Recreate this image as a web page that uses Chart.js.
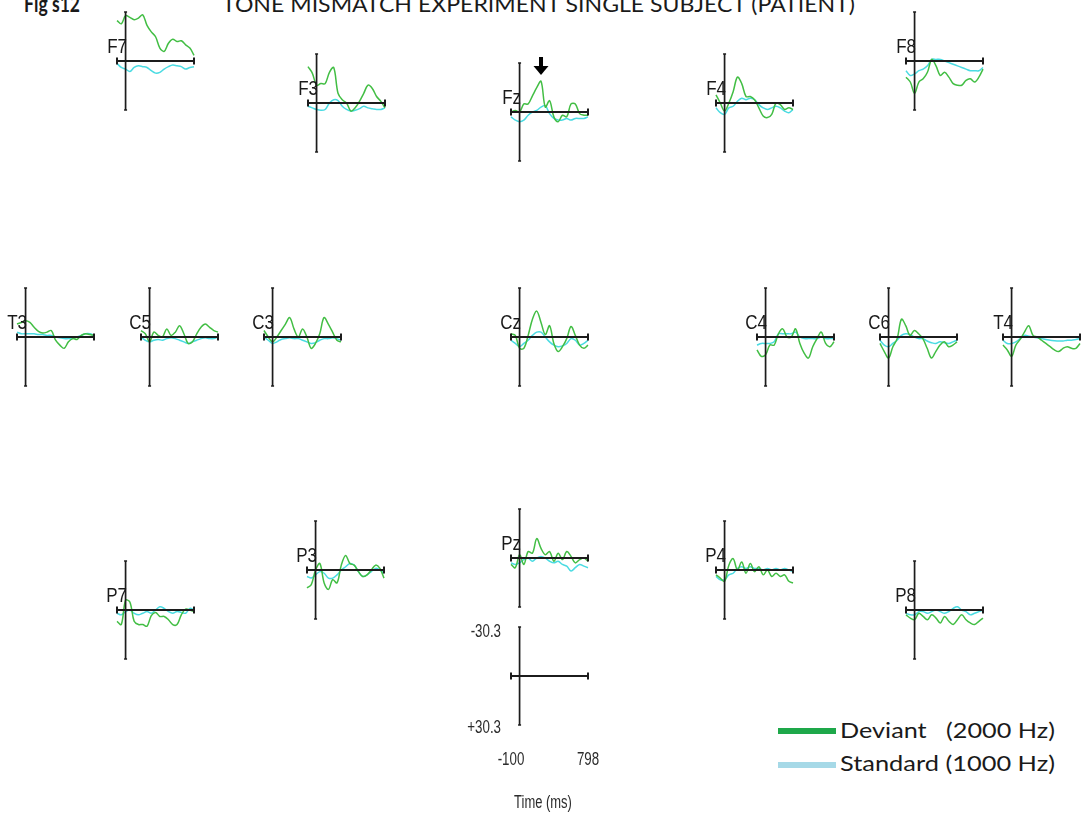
<!DOCTYPE html>
<html>
<head>
<meta charset="utf-8">
<script src="https://cdn.jsdelivr.net/npm/chart.js@4"></script>
<style>
  html, body { margin: 0; padding: 0; background: #fff; }
  #stage { position: relative; width: 1085px; height: 819px; overflow: hidden; }
  #stage canvas { position: absolute; }
  .txt { position: absolute; white-space: pre; color: #1a1a1a; font-family: Lato, "Open Sans", sans-serif; transform-origin: left top; }
  .bar { position: absolute; left: 778px; width: 58px; height: 6px; }
</style>
</head>
<body>
<div id="stage">
  <div class="txt" id="figno" style="left:24px; top:-10px; font-size:22px; font-weight:bold;">Fig s12</div>
  <div class="txt" id="title" style="left:222px; top:-10px; font-size:22px;">TONE MISMATCH EXPERIMENT SINGLE SUBJECT (PATIENT)</div>
  <div class="bar" style="top:728px; background:#1ea84a;"></div>
  <div class="bar" style="top:762px; background:#a6d9e7;"></div>
  <div class="txt" id="legDev" style="left:840px; top:719px; font-size:22px; line-height:22px;">Deviant   (2000 Hz)</div>
  <div class="txt" id="legStd" style="left:840px; top:752px; font-size:22px; line-height:22px;">Standard (1000 Hz)</div>
</div>
<script>
// tijdas (ms), gedeeld door alle elektroden
const times = [-100, -50, 0, 50, 100, 150, 200, 250, 300, 350, 400, 450, 500, 550, 600, 650, 700, 750, 798];

// amplitude in microvolt (negatief = omhoog)
const devF7 = [-25, -23, -28, -27, -25.5, -26.5, -28.5, -22, -18, -15, -8, -6, -11, -13.5, -12, -12.5, -10, -8, -3.5];
const stdF7 = [1.5, 4, 5, 6.5, 4, 3, 3.5, 4, 6, 7.5, 7, 5, 3.5, 2.5, 3, 3.5, 5, 4, 3.5];
const devF3 = [-22.5, -18.5, -11, -12, -12, -19, -22, -6, -2, 0, 5, 3, -1, -6, -11, -9, -4, -1, 3];
const stdF3 = [2, 3, 4, 4.5, 4, 0, -2, -1.5, 2, 4, 5, 4.5, 3.5, 2, 3, 3.5, 4, 4, 3];
const devFz = [0, -1, 0, -5, -5, -10, -15, -19, -3, -7, 3, 6, 2, 3, -5, -5, 1, 2, 2];
const stdFz = [3, 5, 6, 5, 2, 0, -1, -3, -4, 1, 4, 5, 5, 4, 5, 4, 4, 4, 3];
const devF4 = [-5, 0, 5, 0, -7, -16, -12, -4, -4, -2, 3, 8, 9, 7, 0, 1, 4, 3, 4];
const stdF4 = [3, 6, 7, 3, 2, -1, -3, -2, -3, -2, 1, 3, 4, 3, 2, 3, 5, 6, 4];
const devF8 = [10, 13, 20, 13, 11, 7, -1, 3, 9, 7, 10, 14, 15, 15, 12, 11, 13, 10, 5];
const stdF8 = [6, 9, 8, 6, 5, 3, -1, -1, -1, 0, 1, 2, 3, 4, 5, 6, 6, 6, 4];

const devT3 = [-8, -9, -10, -9, -6, -3.5, -2.5, -3, -4, 2, 5, 7, 3, 1, 1.5, -1, -2, -1.5, -1];
const stdT3 = [-3, -2, -2, -2, -2, -1.5, -1.5, -1, -1, 0, 0.5, 1, 1, 1, 0, -1, -2, -2, -1];
const devC5 = [-4, -2, 3, -3, -1, 0, -5, -1, -3, -7, -2, 4, 3, -2, -6, -8, -6, -4, -3];
const stdC5 = [0, 2, 3, 2, 1.5, 2, 1, 0.5, 1, 2, 3, 4, 3, 2, 1, 0.5, 1, 1, 0];
const devC3 = [-4, 0, 3, 0, -4, -8, -12, -5, 0, -5, 0, 7, 4, -2, -12, -8, -3, 2, 3];
const stdC3 = [0, 2, 4, 3, 1.5, 1, 0.5, 1, 1, 2, 3, 4, 3.5, 2, 1, 1, 0.5, 1, 2];
const devCz = [-2, -1, 7, 7, -1, -11, -16, -9, -1.5, -7, 4, 9, 6, 1, -6.5, -1, 5, 7, 5];
const stdCz = [2, 4, 6, 4, 2, -1, -3, -3, 0, 3, 5, 6, 5.5, 4, 1, 2, 5, 4, 2];
const devC4 = [8, 12, 11, 5, 5, -2, -5, 0, 0, -5, 4, 10, 13, 6, 1, -3, 4, 6, 3];
const stdC4 = [5, 4, 4, 4, 3, -2, -2, -2, -2, -3, 0, 1, 1, 1, 1, 0, 1, 1, 1];
const devC6 = [4, 9, 13, 6, 1, -11, -7, -1, -4, -2, 1, 7, 13, 9, 5, 3, 6, 5, 3];
const stdC6 = [2, 5, 6, 4, 2, -1, -2, -1.5, 0, 1, 1, 2.5, 3.5, 4, 3, 3.5, 4, 3, 2];
const devT4 = [5, 8, 12, 5, 1.5, -3, -7, -1, 0, 2, 4, 6, 8, 9, 7, 6, 7, 7, 4];
const stdT4 = [2, 4, 4, 3, 1, -1, -0.5, 0, 0.5, 1, 1.5, 2, 2.3, 2.5, 2.5, 2, 2, 1.5, 1];

const devP7 = [7, 9, -6, -5, 7, 9, 9, 10, 3.5, 1.5, 4, 4, 6, 9, 9, 3, -0.5, 0, 1];
const stdP7 = [2, 3, 1, 0, 2, 3, 2, 1, 2, 0, -2, -1, 1, 2, 1, 1.5, 2, -1, 0];
const devP3 = [11, 9, 0, -4, 8, 12, 6, 8, -3, -9, -4, -3, 1, 4, 3, 0, -3, -1, 5];
const stdP3 = [4, 5, 3, 1, 2, 5, 5, 3, 0, -2, -4, -3, 1, 4, 3, 1, -1, 0, 2];
const devPz = [4, 6, -2, 4, -4, -3, -12, -6, -2, -4, 2, -3, 1, -4, -1, 3, 1, 0, 2];
const stdPz = [3, 4, 3, 1, 0, 2, 0, -1, 0, 2, 3, 2, 4, 5, 8, 6, 4, 5, 6];
const devP4 = [3, 5, 7, -3, -7, 0, -5, 2, -4, 1, -2, 3, 0, 4, 2, 4, 3, 7, 8];
const stdP4 = [4, 6, 6, 3, 2, -1, -2, -1, -2, -1, -1, 0, -1, 0, -1, 0, -1, 0, 1];
const devP8 = [3, 5, 6, 2, 4, 6, 3, 5, 8, 4, 7, 9, 6, 3, 6, 8, 9, 7, 5];
const stdP8 = [2, 3, 3, 1, 1, 2, 1, 0, 1, 2, 1, -1, -2, 0, 1, 3, 2, 1, 0];

const ampMin = -30.3;
const ampMax = 30.3;
const tMin = -100;
const tMax = 798;

const traces = {
  F7: [devF7, stdF7], F3: [devF3, stdF3], Fz: [devFz, stdFz], F4: [devF4, stdF4], F8: [devF8, stdF8],
  T3: [devT3, stdT3], C5: [devC5, stdC5], C3: [devC3, stdC3], Cz: [devCz, stdCz],
  C4: [devC4, stdC4], C6: [devC6, stdC6], T4: [devT4, stdT4],
  P7: [devP7, stdP7], P3: [devP3, stdP3], Pz: [devPz, stdPz], P4: [devP4, stdP4], P8: [devP8, stdP8]
};

// plaats op de pagina: linker uiteinde van de tijdas, hoogte van de nullijn
const positions = {
  F7: [117, 61], F3: [308, 103], Fz: [511, 112], F4: [716, 103], F8: [906, 61],
  T3: [17, 337], C5: [141, 337], C3: [264, 337], Cz: [511, 337], C4: [757, 337], C6: [880, 337], T4: [1003, 337],
  P7: [117, 610], P3: [307, 570], Pz: [511, 558], P4: [716, 570], P8: [906, 610]
};
const scalePos = [511, 676];

const GREEN = '#42be44';
const CYAN = '#4adbe2';

function narrowText(ctx, txt, x, y, size, align, sx) {
  ctx.save();
  ctx.translate(x, y);
  ctx.scale(sx, 1);
  ctx.font = size + 'px "Liberation Sans", Arial, sans-serif';
  ctx.textAlign = align;
  ctx.textBaseline = 'alphabetic';
  ctx.fillText(txt, 0, 0);
  ctx.restore();
}

const eegAxes = {
  id: 'eegAxes',
  afterDatasetsDraw(chart, args, opts) {
    const ctx = chart.ctx;
    const x = chart.scales.x, y = chart.scales.y;
    const x0 = x.getPixelForValue(tMin), x1 = x.getPixelForValue(tMax), xz = x.getPixelForValue(0);
    const yz = y.getPixelForValue(0), yt = y.getPixelForValue(ampMin), yb = y.getPixelForValue(ampMax);
    ctx.save();
    ctx.strokeStyle = '#1c1c1c';
    ctx.lineWidth = 2;
    ctx.beginPath();
    ctx.moveTo(x0, yz); ctx.lineTo(x1, yz);
    ctx.moveTo(x0, yz - 3.5); ctx.lineTo(x0, yz + 3.5);
    ctx.moveTo(x1, yz - 3.5); ctx.lineTo(x1, yz + 3.5);
    ctx.stroke();
    ctx.lineWidth = 1.7;
    ctx.beginPath();
    ctx.moveTo(xz, yt); ctx.lineTo(xz, yb);
    ctx.moveTo(xz - 1.5, yt); ctx.lineTo(xz + 1.5, yt);
    ctx.moveTo(xz - 1.5, yb); ctx.lineTo(xz + 1.5, yb);
    ctx.stroke();

    ctx.fillStyle = '#1a1a1a';
    if (opts.name) narrowText(ctx, opts.name, xz + 1.5, yz - 8, 20, 'right', 0.85);

    if (opts.arrow) {
      const ax = x.getPixelForValue(opts.arrow);
      ctx.fillStyle = '#000';
      ctx.fillRect(ax - 2, yz - 55, 4, 10);
      ctx.beginPath();
      ctx.moveTo(ax - 7.5, yz - 46);
      ctx.lineTo(ax + 7.5, yz - 46);
      ctx.lineTo(ax, yz - 37);
      ctx.closePath();
      ctx.fill();
    }

    if (opts.scale) {
      ctx.fillStyle = '#2c2c2c';
      narrowText(ctx, '-30.3', x0 - 10, yt + 10, 18, 'right', 0.74);
      narrowText(ctx, '+30.3', x0 - 10, yb + 8, 18, 'right', 0.74);
      narrowText(ctx, '-100', x0, yz + 89, 18, 'center', 0.74);
      narrowText(ctx, '798', x1, yz + 89, 18, 'center', 0.74);
      narrowText(ctx, 'Time (ms)', x0 + 32, yz + 132, 18, 'center', 0.72);
    }
    ctx.restore();
  }
};

function makeChart(name, pos, data, extra) {
  const pad = extra.scale ? { left: 60, right: 30, top: 11, bottom: 140 } : { left: 35, right: 18, top: 11, bottom: 11 };
  const cv = document.createElement('canvas');
  cv.width = pad.left + 77 + pad.right;
  cv.height = pad.top + 98 + pad.bottom;
  cv.style.left = (pos[0] - pad.left) + 'px';
  cv.style.top = (pos[1] - 49 - pad.top) + 'px';
  document.getElementById('stage').appendChild(cv);

  const datasets = [];
  if (data) {
    datasets.push({
      label: 'Deviant (2000 Hz)',
      data: times.map((t, i) => ({ x: t, y: data[0][i] })),
      borderColor: GREEN, borderWidth: 1.5
    });
    datasets.push({
      label: 'Standard (1000 Hz)',
      data: times.map((t, i) => ({ x: t, y: data[1][i] })),
      borderColor: CYAN, borderWidth: 1.5
    });
  }

  new Chart(cv, {
    type: 'line',
    data: { datasets: datasets },
    options: {
      responsive: false,
      animation: false,
      devicePixelRatio: 1,
      layout: { padding: pad },
      elements: { point: { radius: 0 }, line: { tension: 0.35, fill: false } },
      datasets: { line: { clip: false } },
      scales: {
        x: { type: 'linear', min: tMin, max: tMax, display: false },
        y: { min: ampMin, max: ampMax, reverse: true, display: false }
      },
      plugins: {
        legend: { display: false },
        tooltip: { enabled: false },
        eegAxes: Object.assign({ name: name }, extra)
      }
    },
    plugins: [eegAxes]
  });
}

Object.keys(traces).forEach(name => {
  makeChart(name, positions[name], traces[name], name === 'Fz' ? { arrow: 250 } : {});
});
makeChart('', scalePos, null, { scale: true });

// titel en legenda op de breedte van het origineel brengen
function fitWidth(id, w) {
  const el = document.getElementById(id);
  const r = w / el.getBoundingClientRect().width;
  el.style.transform = 'scaleX(' + r + ')';
}
fitWidth('figno', 56);
fitWidth('title', 633);
fitWidth('legDev', 215);
fitWidth('legStd', 215);
</script>
</body>
</html>
